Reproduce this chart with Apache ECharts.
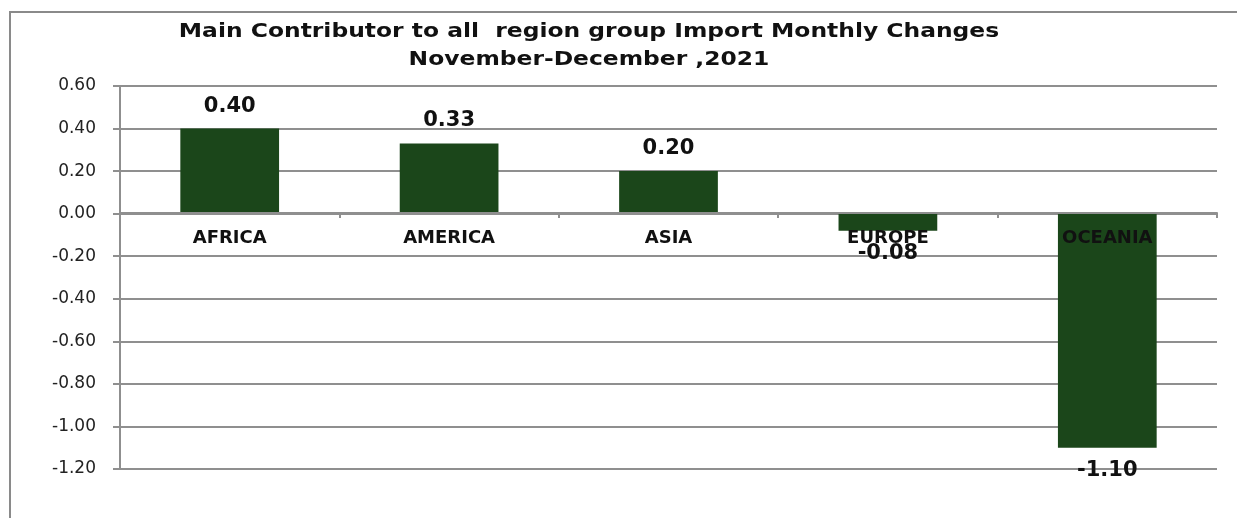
<!DOCTYPE html>
<html>
<head>
<meta charset="utf-8">
<script src="https://cdn.jsdelivr.net/npm/echarts@6/dist/echarts.min.js"></script>
<style>
  html, body { margin: 0; padding: 0; background: #fff; }
  #main { width: 1237px; height: 518px; }
</style>
</head>
<body>
<div id="main"></div>
<script>
// 数据
var regions = ['AFRICA', 'AMERICA', 'ASIA', 'EUROPE', 'OCEANIA']
var changes = [0.40, 0.33, 0.20, -0.08, -1.10]
var titleLines = ['Main Contributor to all  region group Import Monthly Changes', 'November-December ,2021']

var barColor = '#1b461a'
var gridColor = '#8f8f8f'
var font = 'DejaVu Sans'

// 负值标签放在柱子下方
var barData = changes.map(function (v) {
  return {
    value: v,
    label: { position: v < 0 ? 'bottom' : 'top' }
  }
})

// 标题（原图文字略微横向拉伸）
var titleGraphics = titleLines.map(function (t, i) {
  return {
    type: 'text',
    x: 589,
    y: 32 + i * 28,
    scaleX: 1.17,
    style: {
      text: t,
      align: 'center',
      verticalAlign: 'middle',
      fontFamily: font,
      fontWeight: 'bold',
      fontSize: 20,
      fill: '#111'
    }
  }
})

var chart = echarts.init(document.getElementById('main'))
chart.setOption({
  animation: false,
  graphic: [
    {
      type: 'polyline',
      shape: { points: [[10, 530], [10, 12], [1250, 12]] },
      style: { stroke: '#8a8a8a', lineWidth: 2, fill: null }
    }
  ].concat(titleGraphics),
  grid: { left: 120, right: 20, top: 86, bottom: 49 },
  xAxis: {
    type: 'category',
    data: regions,
    position: 'bottom',
    // 把类目轴整体移到 0 刻度线上
    offset: -256,
    z: 5,
    axisLine: { onZero: false, lineStyle: { color: gridColor, width: 2 } },
    axisTick: { show: true, length: 5, lineStyle: { color: gridColor, width: 2 } },
    axisLabel: {
      margin: 16,
      fontFamily: font,
      fontWeight: 'bold',
      fontSize: 18,
      color: '#111'
    }
  },
  yAxis: {
    type: 'value',
    min: -1.2,
    max: 0.6,
    interval: 0.2,
    axisLine: { show: true, lineStyle: { color: gridColor, width: 2 } },
    axisTick: { show: true, length: 7, lineStyle: { color: gridColor, width: 2 } },
    splitLine: { show: true, lineStyle: { color: gridColor, width: 2 } },
    axisLabel: {
      margin: 24,
      fontFamily: font,
      fontSize: 17,
      color: '#222',
      formatter: function (v) { return v.toFixed(2) }
    }
  },
  series: [
    {
      type: 'bar',
      data: barData,
      barWidth: '45%',
      itemStyle: { color: barColor },
      label: {
        show: true,
        distance: 12,
        fontFamily: font,
        fontWeight: 'bold',
        fontSize: 21,
        color: '#111',
        formatter: function (p) { return p.value.toFixed(2) }
      }
    }
  ]
})
</script>
</body>
</html>
